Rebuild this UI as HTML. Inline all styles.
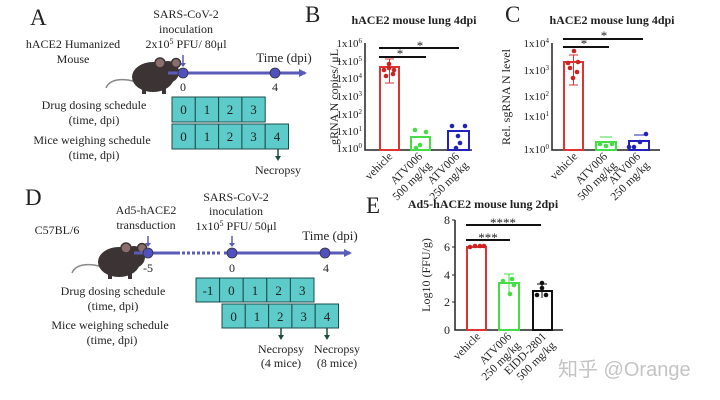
<!DOCTYPE html>
<html><head><meta charset="utf-8"><style>
html,body{margin:0;padding:0;background:#fff;width:720px;height:400px;overflow:hidden}
svg{display:block}
text{font-family:"Liberation Serif",serif;fill:#222}
.b{font-weight:bold}
.box{fill:#5ccbca;stroke:#1d4d4d;stroke-width:1}
.ax{stroke:#222;stroke-width:1.5;fill:none}
</style></head><body>
<svg width="720" height="400" viewBox="0 0 720 400">
<defs>
<marker id="ah" markerWidth="8" markerHeight="8" refX="6" refY="4" orient="auto" markerUnits="userSpaceOnUse"><path d="M0,0 L8,4 L0,8 z" fill="#5a5ab8"/></marker>
<g id="mouse">
 <path d="M8,30 Q12,20 30,22 L40,24" stroke="#888" stroke-width="1.5" fill="none"/>
 <ellipse cx="55" cy="19" rx="21" ry="15" fill="#3c3434"/>
 <ellipse cx="70" cy="14" rx="11" ry="11" fill="#3c3434"/>
 <circle cx="62" cy="5" r="5" fill="#8a6e6e" stroke="#3c3434" stroke-width="1.5"/>
 <circle cx="78" cy="5" r="4.5" fill="#8a6e6e" stroke="#3c3434" stroke-width="1.5"/>
 <rect x="44" y="30" width="4" height="6" fill="#3c3434"/><rect x="64" y="30" width="4" height="6" fill="#3c3434"/>
</g>
</defs>

<!-- Panel A -->
<text x="30" y="25" font-size="23">A</text>
<text x="186" y="18" font-size="12" text-anchor="middle">SARS-CoV-2</text>
<text x="186" y="33" font-size="12" text-anchor="middle">inoculation</text>
<text x="186" y="48" font-size="12" text-anchor="middle">2x10<tspan font-size="8" dy="-4">5</tspan><tspan dy="4"> PFU/ 80μl</tspan></text>
<text x="73" y="48" font-size="12" text-anchor="middle">hACE2 Humanized</text>
<text x="73" y="63" font-size="12" text-anchor="middle">Mouse</text>
<use href="#mouse" x="98" y="58"/>
<line x1="168" y1="73" x2="305" y2="73" stroke="#5a5ab8" stroke-width="3" marker-end="url(#ah)"/>
<line x1="183" y1="55" x2="183" y2="65" stroke="#5a5ab8" stroke-width="1.5"/><path d="M180,63 L186,63 L183,67z" fill="#5a5ab8"/>
<circle cx="183" cy="73" r="5" fill="#5050c0" stroke="#333" stroke-width="0.8"/>
<circle cx="275" cy="73" r="5" fill="#5050c0" stroke="#333" stroke-width="0.8"/>
<text x="284" y="62" font-size="13" text-anchor="middle">Time (dpi)</text>
<text x="183" y="91" font-size="12" text-anchor="middle">0</text>
<text x="275" y="91" font-size="12" text-anchor="middle">4</text>
<text x="94" y="109" font-size="12" text-anchor="middle">Drug dosing schedule</text>
<text x="94" y="124" font-size="12" text-anchor="middle">(time, dpi)</text>
<text x="92" y="144" font-size="12" text-anchor="middle">Mice weighing schedule</text>
<text x="94" y="159" font-size="12" text-anchor="middle">(time, dpi)</text>
<g font-size="13">
<rect class="box" x="172" y="97" width="23.3" height="25"/><rect class="box" x="195.3" y="97" width="23.3" height="25"/><rect class="box" x="218.6" y="97" width="23.3" height="25"/><rect class="box" x="241.9" y="97" width="23.3" height="25"/>
<text x="183.5" y="114" text-anchor="middle">0</text><text x="207" y="114" text-anchor="middle">1</text><text x="230" y="114" text-anchor="middle">2</text><text x="253.5" y="114" text-anchor="middle">3</text>
<rect class="box" x="172" y="124" width="23.3" height="25"/><rect class="box" x="195.3" y="124" width="23.3" height="25"/><rect class="box" x="218.6" y="124" width="23.3" height="25"/><rect class="box" x="241.9" y="124" width="23.3" height="25"/><rect class="box" x="265.2" y="124" width="23.3" height="25"/>
<text x="183.5" y="141" text-anchor="middle">0</text><text x="207" y="141" text-anchor="middle">1</text><text x="230" y="141" text-anchor="middle">2</text><text x="253.5" y="141" text-anchor="middle">3</text><text x="277" y="141" text-anchor="middle">4</text>
</g>
<line x1="278" y1="149" x2="278" y2="158" stroke="#1d4d3a" stroke-width="1.5"/><path d="M275,156 L281,156 L278,161z" fill="#1d4d3a"/>
<text x="278" y="174" font-size="12" text-anchor="middle">Necropsy</text>

<!-- Panel B -->
<text x="305" y="22" font-size="23">B</text>
<text x="414" y="24" font-size="12" class="b" text-anchor="middle">hACE2  mouse lung 4dpi</text>
<text x="338" y="97" font-size="12" text-anchor="middle" transform="rotate(-90 338 97)">gRNA N copies/ μL</text>
<g font-size="11" text-anchor="end">
<text x="362" y="47">1x10<tspan font-size="7" dy="-4">6</tspan></text>
<text x="362" y="65">1x10<tspan font-size="7" dy="-4">5</tspan></text>
<text x="362" y="82">1x10<tspan font-size="7" dy="-4">4</tspan></text>
<text x="362" y="100">1x10<tspan font-size="7" dy="-4">3</tspan></text>
<text x="362" y="118">1x10<tspan font-size="7" dy="-4">2</tspan></text>
<text x="362" y="135">1x10<tspan font-size="7" dy="-4">1</tspan></text>
<text x="362" y="152">1x10<tspan font-size="7" dy="-4">0</tspan></text>
</g>
<path class="ax" d="M365,43 V150 H472"/>
<rect x="380" y="67" width="19" height="83" fill="#fff" stroke="#d33" stroke-width="2"/>
<line x1="389.5" y1="59" x2="389.5" y2="83" stroke="#d33"/><line x1="385" y1="59" x2="394" y2="59" stroke="#d33"/><line x1="385" y1="83" x2="394" y2="83" stroke="#d33"/>
<g fill="#c22"><circle cx="384" cy="70" r="2.3"/><circle cx="389" cy="68" r="2.3"/><circle cx="394" cy="70" r="2.3"/><circle cx="386" cy="76" r="2.3"/><circle cx="393" cy="74" r="2.3"/><circle cx="389" cy="64" r="2.3"/></g>
<rect x="411" y="137" width="19" height="13" fill="#fff" stroke="#4d4" stroke-width="2"/>
<g fill="#4d4"><circle cx="415" cy="130" r="2.3"/><circle cx="426" cy="132" r="2.3"/><circle cx="420" cy="145" r="2.3"/><circle cx="416" cy="148" r="2.3"/></g>
<rect x="448" y="131" width="21" height="19" fill="#fff" stroke="#22b" stroke-width="2"/>
<g fill="#22b"><circle cx="452" cy="126" r="2.3"/><circle cx="465" cy="126" r="2.3"/><circle cx="458" cy="136" r="2.3"/><circle cx="460" cy="143" r="2.3"/><circle cx="456" cy="148" r="2.3"/></g>
<line x1="379" y1="57" x2="426" y2="57" stroke="#111" stroke-width="2"/><text x="400" y="58" font-size="13" text-anchor="middle">*</text>
<line x1="379" y1="48" x2="459" y2="48" stroke="#111" stroke-width="2"/><text x="420" y="50" font-size="13" text-anchor="middle">*</text>
<g font-size="11.5" text-anchor="end">
<text transform="translate(393,157) rotate(-45)">vehicle</text>
<text transform="translate(423,157) rotate(-45)">ATV006</text>
<text transform="translate(432,166) rotate(-45)">500 mg/kg</text>
<text transform="translate(460,157) rotate(-45)">ATV006</text>
<text transform="translate(469,166) rotate(-45)">250 mg/kg</text>
</g>

<!-- Panel C -->
<text x="505" y="22" font-size="23">C</text>
<text x="612" y="24" font-size="12" class="b" text-anchor="middle">hACE2  mouse lung 4dpi</text>
<text x="510" y="97" font-size="12" text-anchor="middle" transform="rotate(-90 510 97)">Rel. sgRNA N level</text>
<g font-size="11" text-anchor="end">
<text x="549" y="47">1x10<tspan font-size="7" dy="-4">4</tspan></text>
<text x="549" y="74">1x10<tspan font-size="7" dy="-4">3</tspan></text>
<text x="549" y="100">1x10<tspan font-size="7" dy="-4">2</tspan></text>
<text x="549" y="120">1x10<tspan font-size="7" dy="-4">1</tspan></text>
<text x="549" y="153">1x10<tspan font-size="7" dy="-4">0</tspan></text>
</g>
<path class="ax" d="M552,43 V150 H660"/>
<rect x="564" y="62" width="19" height="88" fill="#fff" stroke="#d33" stroke-width="2"/>
<line x1="573.5" y1="55" x2="573.5" y2="85" stroke="#d33"/><line x1="569" y1="55" x2="578" y2="55" stroke="#d33"/><line x1="569" y1="85" x2="578" y2="85" stroke="#d33"/>
<g fill="#c22"><circle cx="574" cy="51" r="2.3"/><circle cx="568" cy="63" r="2.3"/><circle cx="578" cy="62" r="2.3"/><circle cx="570" cy="68" r="2.3"/><circle cx="577" cy="72" r="2.3"/><circle cx="573" cy="78" r="2.3"/></g>
<rect x="596" y="142" width="20" height="8" fill="#fff" stroke="#4d4" stroke-width="2"/>
<line x1="600" y1="137" x2="612" y2="137" stroke="#4d4"/>
<g fill="#4d4"><circle cx="600" cy="144" r="2.3"/><circle cx="606" cy="146" r="2.3"/><circle cx="612" cy="144" r="2.3"/></g>
<rect x="629" y="141" width="20" height="9" fill="#fff" stroke="#22b" stroke-width="2"/>
<line x1="634" y1="135" x2="644" y2="135" stroke="#22b"/>
<g fill="#22b"><circle cx="629" cy="147" r="2.3"/><circle cx="640" cy="142" r="2.3"/><circle cx="646" cy="134" r="2.3"/><circle cx="634" cy="147" r="2.3"/></g>
<line x1="563" y1="47" x2="609" y2="47" stroke="#111" stroke-width="2"/><text x="584" y="48" font-size="13" text-anchor="middle">*</text>
<line x1="563" y1="39" x2="643" y2="39" stroke="#111" stroke-width="2"/><text x="604" y="40" font-size="13" text-anchor="middle">*</text>
<g font-size="11.5" text-anchor="end">
<text transform="translate(578,157) rotate(-45)">vehicle</text>
<text transform="translate(608,157) rotate(-45)">ATV006</text>
<text transform="translate(617,166) rotate(-45)">500 mg/kg</text>
<text transform="translate(641,157) rotate(-45)">ATV006</text>
<text transform="translate(650,166) rotate(-45)">250 mg/kg</text>
</g>

<!-- Panel D -->
<text x="25" y="205" font-size="23">D</text>
<text x="57" y="234" font-size="12" text-anchor="middle">C57BL/6</text>
<use href="#mouse" x="64" y="243"/>
<text x="146" y="214" font-size="12" text-anchor="middle">Ad5-hACE2</text>
<text x="146" y="229" font-size="12" text-anchor="middle">transduction</text>
<text x="236" y="201" font-size="12" text-anchor="middle">SARS-CoV-2</text>
<text x="236" y="215" font-size="12" text-anchor="middle">inoculation</text>
<text x="236" y="230" font-size="12" text-anchor="middle">1x10<tspan font-size="8" dy="-4">5</tspan><tspan dy="4"> PFU/ 50μl</tspan></text>
<line x1="134" y1="253" x2="180" y2="253" stroke="#5a5ab8" stroke-width="3"/>
<line x1="182" y1="253" x2="222" y2="253" stroke="#5a5ab8" stroke-width="3" stroke-dasharray="3,2"/>
<line x1="224" y1="253" x2="350" y2="253" stroke="#5a5ab8" stroke-width="3" marker-end="url(#ah)"/>
<line x1="148" y1="236" x2="148" y2="245" stroke="#5a5ab8" stroke-width="1.5"/><path d="M145,243 L151,243 L148,247z" fill="#5a5ab8"/>
<line x1="232" y1="236" x2="232" y2="245" stroke="#5a5ab8" stroke-width="1.5"/><path d="M229,243 L235,243 L232,247z" fill="#5a5ab8"/>
<circle cx="148" cy="253" r="5" fill="#5050c0" stroke="#333" stroke-width="0.8"/>
<circle cx="232" cy="253" r="5" fill="#5050c0" stroke="#333" stroke-width="0.8"/>
<circle cx="325" cy="253" r="5" fill="#5050c0" stroke="#333" stroke-width="0.8"/>
<text x="330" y="240" font-size="13" text-anchor="middle">Time (dpi)</text>
<text x="148" y="272" font-size="12" text-anchor="middle">-5</text>
<text x="232" y="272" font-size="12" text-anchor="middle">0</text>
<text x="326" y="272" font-size="12" text-anchor="middle">4</text>
<text x="113" y="295" font-size="12" text-anchor="middle">Drug dosing schedule</text>
<text x="113" y="310" font-size="12" text-anchor="middle">(time, dpi)</text>
<text x="110" y="329" font-size="12" text-anchor="middle">Mice weighing schedule</text>
<text x="112" y="344" font-size="12" text-anchor="middle">(time, dpi)</text>
<g font-size="13">
<rect class="box" x="196" y="278" width="23.6" height="24"/><rect class="box" x="219.6" y="278" width="23.6" height="24"/><rect class="box" x="243.2" y="278" width="23.6" height="24"/><rect class="box" x="266.8" y="278" width="23.6" height="24"/><rect class="box" x="290.4" y="278" width="23.6" height="24"/>
<text x="208" y="295" text-anchor="middle">-1</text><text x="231.4" y="295" text-anchor="middle">0</text><text x="255" y="295" text-anchor="middle">1</text><text x="278.6" y="295" text-anchor="middle">2</text><text x="302.2" y="295" text-anchor="middle">3</text>
<rect class="box" x="222" y="304" width="23.3" height="24"/><rect class="box" x="245.3" y="304" width="23.3" height="24"/><rect class="box" x="268.6" y="304" width="23.3" height="24"/><rect class="box" x="291.9" y="304" width="23.3" height="24"/><rect class="box" x="315.2" y="304" width="23.3" height="24"/>
<text x="233.6" y="321" text-anchor="middle">0</text><text x="257" y="321" text-anchor="middle">1</text><text x="280.3" y="321" text-anchor="middle">2</text><text x="303.6" y="321" text-anchor="middle">3</text><text x="327" y="321" text-anchor="middle">4</text>
</g>
<line x1="281" y1="328" x2="281" y2="337" stroke="#1d4d3a" stroke-width="1.5"/><path d="M278,335 L284,335 L281,340z" fill="#1d4d3a"/>
<line x1="327" y1="328" x2="327" y2="337" stroke="#1d4d3a" stroke-width="1.5"/><path d="M324,335 L330,335 L327,340z" fill="#1d4d3a"/>
<text x="281" y="353" font-size="12" text-anchor="middle">Necropsy</text>
<text x="281" y="367" font-size="12" text-anchor="middle">(4 mice)</text>
<text x="337" y="353" font-size="12" text-anchor="middle">Necropsy</text>
<text x="337" y="367" font-size="12" text-anchor="middle">(8 mice)</text>

<!-- Panel E -->
<text x="366" y="213" font-size="23">E</text>
<text x="483" y="208" font-size="12" class="b" text-anchor="middle">Ad5-hACE2  mouse lung 2dpi</text>
<text x="430" y="275" font-size="12" text-anchor="middle" transform="rotate(-90 430 275)">Log10 (FFU/g)</text>
<g font-size="12" text-anchor="end">
<text x="450" y="224">8</text><text x="450" y="251">6</text><text x="450" y="279">4</text><text x="450" y="306">2</text><text x="450" y="334">0</text>
</g>
<path class="ax" d="M455,220 V330 H563"/>
<g stroke="#222"><line x1="452" y1="220" x2="455" y2="220"/><line x1="452" y1="247" x2="455" y2="247"/><line x1="452" y1="275" x2="455" y2="275"/><line x1="452" y1="302" x2="455" y2="302"/></g>
<rect x="467" y="247" width="19" height="83" fill="#fff" stroke="#d33" stroke-width="2"/>
<g fill="#c22"><circle cx="470" cy="247" r="2.3"/><circle cx="475" cy="246" r="2.3"/><circle cx="480" cy="246" r="2.3"/><circle cx="484" cy="246" r="2.3"/></g>
<rect x="499" y="283" width="20" height="47" fill="#fff" stroke="#4d4" stroke-width="2"/>
<line x1="509" y1="274" x2="509" y2="294" stroke="#4d4"/><line x1="504" y1="274" x2="514" y2="274" stroke="#4d4"/>
<g fill="#4d4"><circle cx="503" cy="281" r="2.3"/><circle cx="512" cy="279" r="2.3"/><circle cx="514" cy="285" r="2.3"/><circle cx="510" cy="294" r="2.3"/></g>
<rect x="533" y="291" width="19" height="39" fill="#fff" stroke="#111" stroke-width="2"/>
<line x1="542" y1="284" x2="542" y2="298" stroke="#111"/><line x1="537" y1="284" x2="547" y2="284" stroke="#111"/>
<g fill="#111"><circle cx="542" cy="283" r="2.3"/><circle cx="542" cy="288" r="2.3"/><circle cx="537" cy="295" r="2.3"/><circle cx="546" cy="295" r="2.3"/></g>
<line x1="466" y1="225" x2="541" y2="225" stroke="#111" stroke-width="2"/><text x="503" y="227" font-size="13" text-anchor="middle">****</text>
<line x1="466" y1="240" x2="510" y2="240" stroke="#111" stroke-width="2"/><text x="488" y="242" font-size="13" text-anchor="middle">***</text>
<g font-size="11.5" text-anchor="end">
<text transform="translate(481,337) rotate(-45)">vehicle</text>
<text transform="translate(512,337) rotate(-45)">ATV006</text>
<text transform="translate(521,346) rotate(-45)">250 mg/kg</text>
<text transform="translate(547,337) rotate(-45)">EIDD-2801</text>
<text transform="translate(556,346) rotate(-45)">500 mg/kg</text>
</g>

<text x="558" y="376" font-size="20" style="font-family:'Liberation Sans','Noto Sans CJK SC',sans-serif;fill:#c4c4c4">知乎 @Orange</text>
</svg>
</body></html>
